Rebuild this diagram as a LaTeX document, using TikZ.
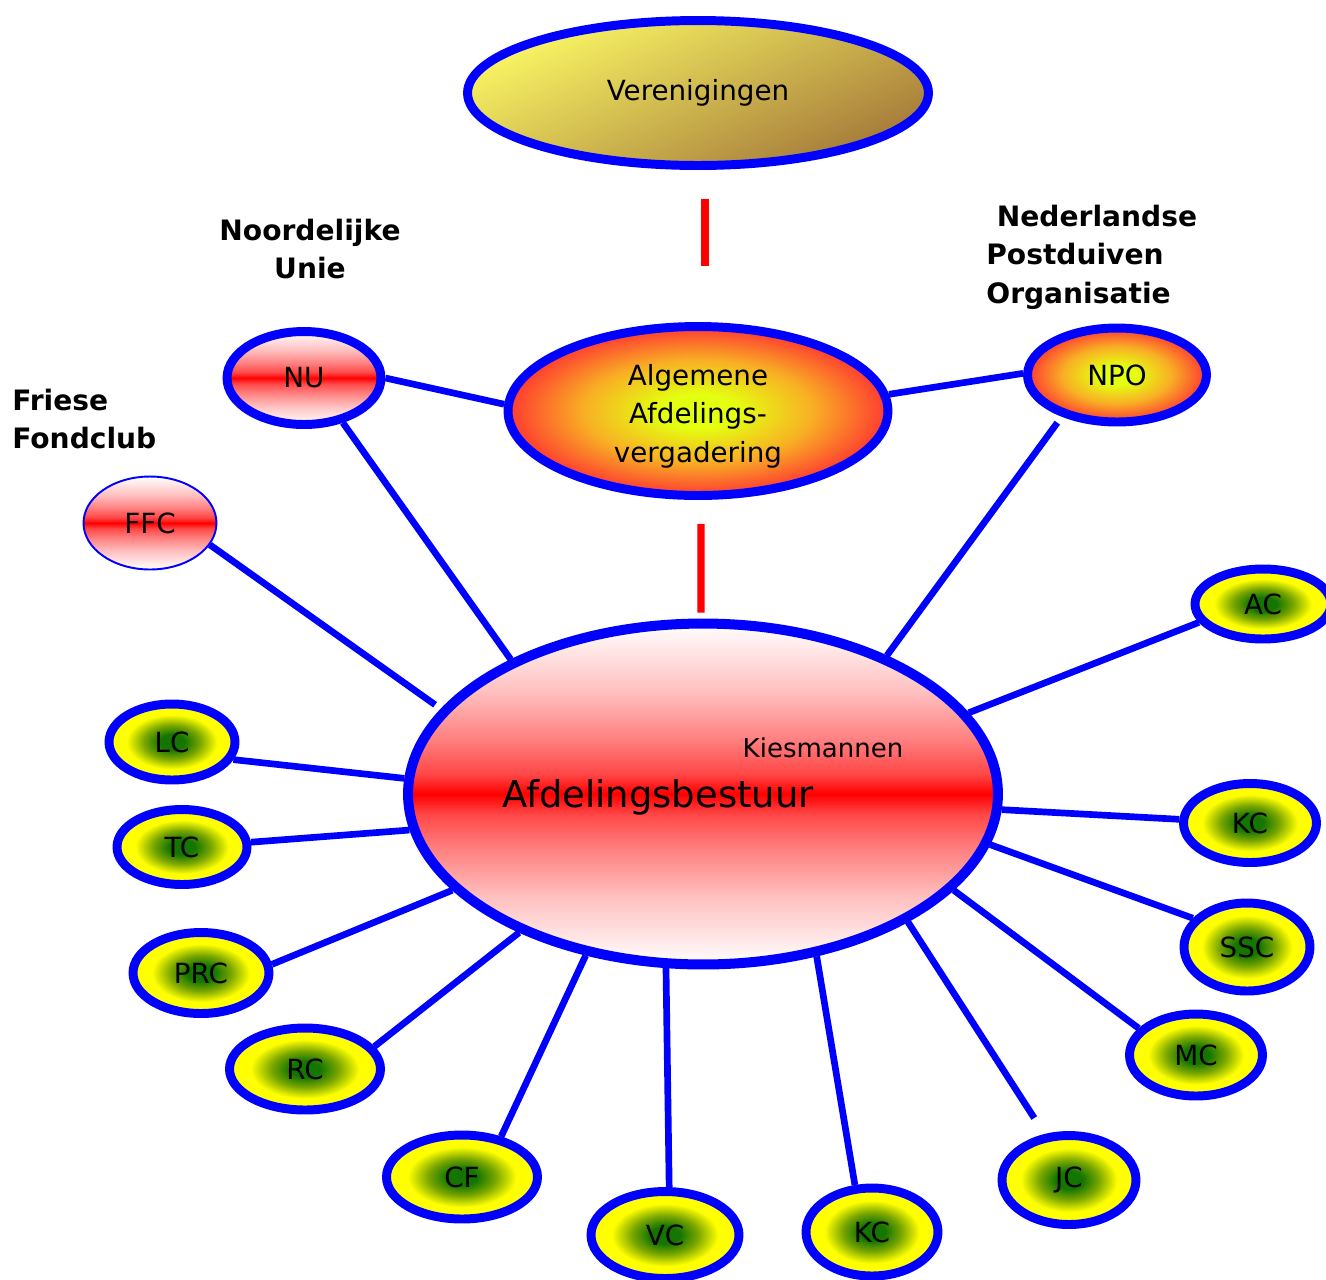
\documentclass[tikz,border=0pt]{standalone}
\usepackage{fontspec}
\setmainfont{DejaVu Sans}
\usetikzlibrary{shapes.geometric}

\definecolor{linkblue}{RGB}{0,0,255}
\definecolor{bandred}{RGB}{255,0,0}
\definecolor{verlight}{RGB}{250,246,100}
\definecolor{verdark}{RGB}{165,122,58}
\definecolor{glowcore}{RGB}{228,255,16}
\definecolor{glowmid}{RGB}{248,176,36}
\definecolor{glowrim}{RGB}{255,58,48}
\definecolor{clubcore}{RGB}{20,118,0}
\definecolor{clubmid}{RGB}{120,165,0}
\definecolor{clubrim}{RGB}{255,255,0}
\pgfdeclareradialshading{glow}{\pgfpointorigin}{color(0bp)=(glowcore); color(5bp)=(glowcore); color(15bp)=(glowmid); color(25bp)=(glowrim); color(50bp)=(glowrim)}
\pgfdeclareradialshading{clubglow}{\pgfpointorigin}{color(0bp)=(clubcore); color(5bp)=(clubcore); color(11bp)=(clubmid); color(18bp)=(clubrim); color(50bp)=(clubrim)}
\pgfdeclareverticalshading{redband}{100bp}{color(0bp)=(white); color(25bp)=(white); color(35bp)=(bandred!25); color(42bp)=(bandred!50); color(47bp)=(bandred!72); color(50bp)=(bandred); color(53bp)=(bandred!72); color(58bp)=(bandred!50); color(65bp)=(bandred!25); color(75bp)=(white); color(100bp)=(white)}

\begin{document}
\begin{tikzpicture}[x=0.02cm,y=-0.02cm]
\tikzstyle{bubble} = [ellipse, draw=linkblue, line width=5.1pt, inner sep=0pt, font=\fontsize{15.8}{22}\selectfont]
\tikzstyle{club} = [bubble, shade, shading=clubglow]
\tikzstyle{band} = [bubble, shade, shading=redband]
\tikzstyle{glowing} = [bubble, shade, shading=glow]
\tikzstyle{link} = [draw=linkblue, line width=3.8pt]
\tikzstyle{redlink} = [draw=bandred, line width=4pt]
\tikzstyle{title} = [inner sep=0pt, font=\bfseries\fontsize{16}{22}\selectfont]

\useasboundingbox (0,0) rectangle (1326,1279);

%Top of the tree: the clubs and the general meeting
\node[bubble, top color=verlight, bottom color=verdark, shading angle=25, minimum width=9.22cm, minimum height=2.9cm] (ver) at (698,93) {Verenigingen};
\node[glowing, minimum width=7.6cm, minimum height=3.38cm] (alg) at (698,411) {};
\node[align=center, font=\fontsize{15.8}{22}\selectfont] (algtext) at (698,416) {Algemene\\Afdelings-\\vergadering};

%The board in the middle
\node[band, line width=5.7pt, minimum width=11.8cm, minimum height=6.82cm] (main) at (703,794) {};
\node[font=\fontsize{21}{25}\selectfont] (bestuur) at (658,797) {Afdelingsbestuur};
\node[font=\fontsize{14.8}{18}\selectfont] (kies) at (823,748) {Kiesmannen};

%Unions with their full names
\node[band, minimum width=3.08cm, minimum height=1.86cm] (nu) at (304,378) {NU};
\node[glowing, minimum width=3.58cm, minimum height=1.88cm] (npo) at (1117,375) {NPO};
\node[band, line width=1.1pt, minimum width=2.66cm, minimum height=1.86cm] (ffc) at (150,523) {FFC};
\node[title, align=center] (nutitle) at (310,249) {Noordelijke\\Unie};
\node[title, align=left, anchor=west] (ffctitle) at (12,419) {Friese\\Fondclub};
\node[title, align=left, anchor=west] (npotitle) at (986,257) {\hspace*{6pt}Nederlandse\\Postduiven\\Organisatie};

%Kiesmannen of the clubs around the board
\node[club, minimum width=2.72cm, minimum height=1.40cm] (ac) at (1263,604) {AC};
\node[club, minimum width=2.52cm, minimum height=1.52cm] (lc) at (172,742) {LC};
\node[club, minimum width=2.60cm, minimum height=1.50cm] (tc) at (182,847) {TC};
\node[club, minimum width=2.72cm, minimum height=1.62cm] (prc) at (201,973) {PRC};
\node[club, minimum width=3.02cm, minimum height=1.64cm] (rc) at (305,1069) {RC};
\node[club, minimum width=3.02cm, minimum height=1.68cm] (cf) at (462,1177) {CF};
\node[club, minimum width=2.96cm, minimum height=1.74cm] (vc) at (665,1235) {VC};
\node[club, minimum width=2.64cm, minimum height=1.76cm] (kcb) at (872,1232) {KC};
\node[club, minimum width=2.68cm, minimum height=1.78cm] (jc) at (1069,1180) {JC};
\node[club, minimum width=2.66cm, minimum height=1.64cm] (mc) at (1196,1055) {MC};
\node[club, minimum width=2.52cm, minimum height=1.76cm] (ssc) at (1247,947) {SSC};
\node[club, minimum width=2.66cm, minimum height=1.58cm] (kcr) at (1250,823) {KC};

%Red lines down the middle
\draw[redlink, shorten <=0.58cm, shorten >=1.12cm] ([xshift=0.14cm]ver.south) -- ([xshift=0.14cm]alg.north);
\draw[redlink, shorten <=0.48cm, shorten >=0.12cm] ([xshift=0.06cm]alg.south) -- ([xshift=-0.04cm]main.north);

%Meeting to the unions
\draw[link] (nu.0) -- (alg.178);
\draw[link] (alg.5) -- (npo.179);

%Board to the unions
\draw[link] (main.145) -- (nu.311);
\draw[link, shorten <=0.14cm] (main.162) -- (ffc.340);
\draw[link, shorten >=0.15cm] (main.37) -- (npo.217);

%Board to the clubs
\draw[link] (main.17) -- (ac.196);
\draw[link] (main.177) -- (lc.344);
\draw[link] (main.187) -- (tc.4);
\draw[link] (main.201) -- (prc.7);
\draw[link] (main.217) -- (rc.18);
\draw[link] (main.234) -- (cf.46);
\draw[link] (main.258) -- (vc.85);
\draw[link] (main.305) -- (kcb.110);
\draw[link, shorten >=0.38cm] (main.328) -- (jc.118);
\draw[link] (main.339) -- (mc.155);
\draw[link] (main.350) -- (ssc.152);
\draw[link] (main.357) -- (kcr.177);

\end{tikzpicture}
\end{document}
